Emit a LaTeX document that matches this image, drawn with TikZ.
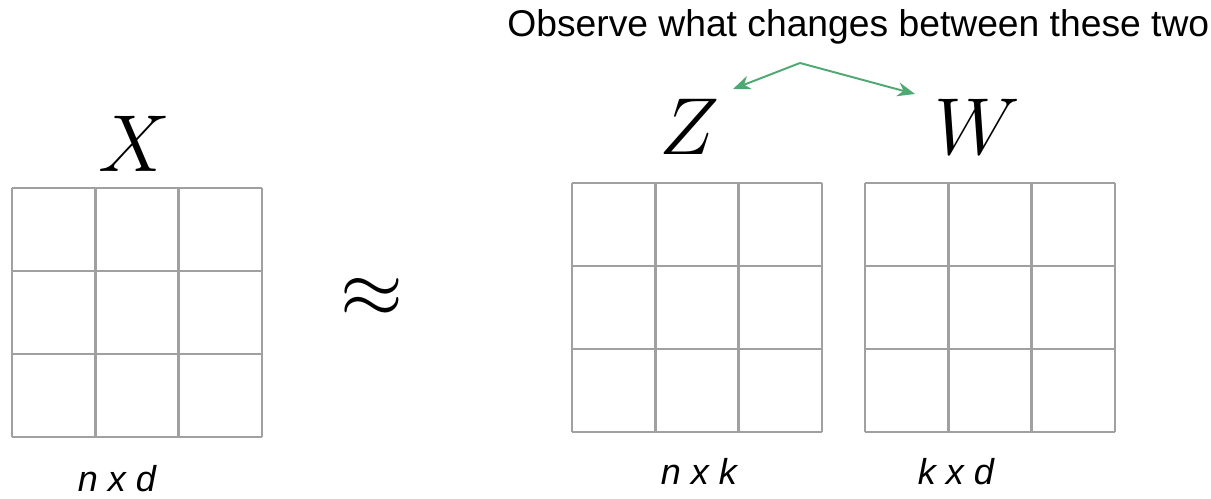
\RequirePackage{fix-cm}
\documentclass[tikz,border=0pt]{standalone}
\usepackage{fontspec}
\setmainfont{Liberation Sans}
\usetikzlibrary{arrows.meta}

\definecolor{notegreen}{HTML}{4EA872}
\definecolor{cellgray}{HTML}{A0A0A0}

\tikzset{
    cellline/.style={draw=cellgray,line width=1.4pt},
    bigsym/.style={font=\fontsize{46}{50}\selectfont,inner sep=0pt},
    dimlabel/.style={font=\fontsize{20.5}{24}\selectfont\itshape,inner sep=0pt,anchor=base},
    notearrow/.style={draw=notegreen,line width=1.1pt,-{Stealth[length=10pt,width=8pt]}}
}

\begin{document}
\begin{tikzpicture}[x=0.02cm,y=-0.02cm]
\useasboundingbox (0,0) rectangle (1211,499);

% the three 3x3 matrices
\foreach \name/\x/\y in {matX/12/188,matZ/572/183,matW/865/183}{
    \foreach \i in {0,1,2,3}{
        \draw[cellline] (\x+\i*83.33,\y)--(\x+\i*83.33,\y+249);
        \draw[cellline] (\x,\y+\i*83)--(\x+250,\y+\i*83);
    }
}

% symbols
\node[bigsym,anchor=base] (labX) at (135,172) {$X$};
\node[bigsym,anchor=base] (labZ) at (689,155) {$Z$};
\node[bigsym,anchor=base] (labW) at (977,155) {$W$};
\node[bigsym] (approx) at (372,298) {$\approx$};

% sizes
\node[dimlabel] (dimX) at (117,492) {n x d};
\node[dimlabel] (dimZ) at (699,485) {n x k};
\node[dimlabel] (dimW) at (956,485) {k x d};

% note
\node[font=\fontsize{21.2}{25}\selectfont,inner sep=0pt,anchor=base west] (note) at (507,37)
    {Observe what changes between these two};
\coordinate (fork) at (800,63);
\coordinate (tipZ) at (733,89);
\coordinate (tipW) at (915,94);
\draw[notearrow] (fork)--(tipZ);
\draw[notearrow] (fork)--(tipW);
\end{tikzpicture}
\end{document}
